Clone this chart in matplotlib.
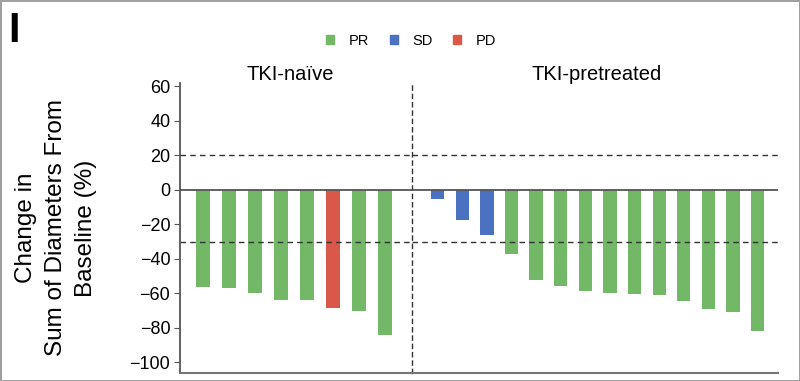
import matplotlib
matplotlib.use("Agg")
import matplotlib.pyplot as plt
from matplotlib.patches import Patch

plt.rcParams['font.family'] = ['Liberation Sans', 'DejaVu Sans']

# best response per patient (% change in sum of diameters)
naive_values = [-56.5, -57, -60, -64, -64, -68.5, -70.5, -84]
naive_resp = ['PR', 'PR', 'PR', 'PR', 'PR', 'PD', 'PR', 'PR']
pre_values = [-5, -17.7, -26, -37, -52, -55.7, -58.5, -59.6, -60.4, -61.2,
              -64.5, -69.2, -71, -82]
pre_resp = ['SD', 'SD', 'SD'] + ['PR'] * 11
group_labels = ['TKI-naïve', 'TKI-pretreated']
yticks = [-100, -80, -60, -40, -20, 0, 20, 40, 60]

colors = {'PR': '#72b866', 'SD': '#4a72c0', 'PD': '#d9584a'}

W, H = 800, 381
fig = plt.figure(figsize=(8, 3.81), dpi=100, linewidth=2, edgecolor='#a0a0a0')


def box(x0, x1, y0, y1):
    # pixel box (top-left origin) -> figure fraction rect
    return [x0 / W, 1 - y1 / H, (x1 - x0) / W, (y1 - y0) / H]


ax1 = fig.add_axes(box(180, 412, 83, 372.7))
ax2 = fig.add_axes(box(412, 778, 83, 372.7), sharey=ax1)

bw = 0.54
ax1.bar(range(len(naive_values)), naive_values, width=bw,
        color=[colors[r] for r in naive_resp])
ax2.bar(range(len(pre_values)), pre_values, width=bw,
        color=[colors[r] for r in pre_resp])

ax1.set_xlim(-0.87, 8.05)
ax2.set_xlim(-1.045, 13.83)
ax1.set_ylim(-106, 62)

for ax in (ax1, ax2):
    ax.patch.set_visible(False)
    ax.axhline(0, color='#555555', lw=1.3)
    ax.axhline(20, color='#333333', lw=1, ls=(0, (4, 3)))
    ax.axhline(-30, color='#333333', lw=1, ls=(0, (4, 3)))
    ax.spines['top'].set_visible(False)
    ax.spines['bottom'].set_color('#777777')
    ax.spines['bottom'].set_linewidth(1.5)
    ax.set_xticks([])

# dashed divider between the two groups
ax1.spines['right'].set_linestyle((0, (3, 3)))
ax1.spines['right'].set_color('#333333')
ax1.spines['right'].set_linewidth(1)
ax1.spines['right'].set_zorder(5)
ax1.spines['left'].set_color('#555555')
ax1.spines['left'].set_linewidth(1.3)
ax1.set_yticks(yticks)
ax1.tick_params(axis='y', labelsize=13, length=4, color='#555555', pad=3)

ax2.spines['left'].set_visible(False)
ax2.spines['right'].set_visible(False)
ax2.tick_params(axis='y', left=False, labelleft=False)

fig.text(56 / W, 1 - 228 / H, 'Change in\nSum of Diameters From\nBaseline (%)',
         rotation=90, ha='center', va='center', multialignment='center',
         fontsize=17.5, linespacing=1.45)

fig.text(290 / W, 1 - 75 / H, group_labels[0], ha='center', va='center', fontsize=14.5)
fig.text(597 / W, 1 - 75 / H, group_labels[1], ha='center', va='center', fontsize=14.5)

fig.text(14 / W, 1 - 31 / H, 'I', ha='center', va='center', fontsize=30,
         fontweight='bold')

handles = [Patch(color=colors[k]) for k in ['PR', 'SD', 'PD']]
fig.legend(handles, ['PR', 'SD', 'PD'], loc='center', ncol=3,
           bbox_to_anchor=(411 / W, 1 - 41 / H), frameon=False, fontsize=10.5,
           handlelength=0.55, handleheight=0.55, handletextpad=1.0,
           columnspacing=1.4)

fig.savefig('out.png', dpi=100)
